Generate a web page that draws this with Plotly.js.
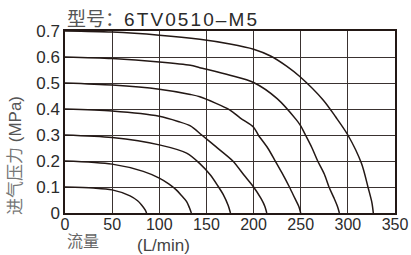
<!DOCTYPE html>
<html>
<head>
<meta charset="utf-8">
<script src="https://cdn.plot.ly/plotly-3.0.1.min.js"></script>
<style>html,body{margin:0;padding:0;background:#fff;}#chart{width:411px;height:255px;}</style>
</head>
<body>
<div id="chart"></div>
<script>
// Flow (L/min) and pressure (MPa) for each supply-pressure curve
const flow07 = [0, 50, 100, 143, 175, 200, 218, 235, 249, 274, 287, 300, 314.5, 321.6, 325.5, 327];
const pres07 = [0.7, 0.696, 0.684, 0.668, 0.65, 0.63, 0.604, 0.565, 0.525, 0.434, 0.37, 0.3, 0.19, 0.096, 0.04, 0];
const flow06 = [0, 50, 100, 133, 143, 175, 200, 225, 245, 250, 255, 262, 268, 275, 280, 285, 289, 291];
const pres06 = [0.6, 0.594, 0.581, 0.568, 0.559, 0.53, 0.502, 0.44, 0.36, 0.335, 0.3, 0.25, 0.2, 0.15, 0.1, 0.06, 0.025, 0];
const flow05 = [0, 50, 100, 133, 143, 175, 186, 200, 205, 215, 223, 230, 238, 244, 248, 250];
const pres05 = [0.5, 0.492, 0.476, 0.456, 0.447, 0.396, 0.365, 0.33, 0.3, 0.25, 0.2, 0.155, 0.1, 0.055, 0.025, 0];
const flow04 = [0, 50, 100, 120, 133, 145, 160, 178, 190, 200, 208, 212, 214];
const pres04 = [0.4, 0.392, 0.372, 0.352, 0.335, 0.3, 0.255, 0.2, 0.145, 0.1, 0.055, 0.025, 0];
const flow03 = [0, 50, 100, 129, 143, 154, 162, 168, 173, 175.5];
const pres03 = [0.3, 0.29, 0.262, 0.23, 0.19, 0.147, 0.105, 0.07, 0.03, 0];
const flow02 = [0, 50, 83, 100, 110, 118, 124, 129, 132, 134];
const pres02 = [0.2, 0.188, 0.16, 0.134, 0.112, 0.089, 0.065, 0.044, 0.02, 0];
const flow01 = [0, 30, 50, 69, 77, 81, 85, 86.5];
const pres01 = [0.1, 0.096, 0.089, 0.066, 0.047, 0.032, 0.012, 0];

const xTicks = [0, 50, 100, 150, 200, 250, 300, 350];
const yTicks = [0, 0.1, 0.2, 0.3, 0.4, 0.5, 0.6, 0.7];
const yTickText = ['0', '0.1', '0.2', '0.3', '0.4', '0.5', '0.6', '0.7'];

const series = [[flow07, pres07], [flow06, pres06], [flow05, pres05], [flow04, pres04], [flow03, pres03], [flow02, pres02], [flow01, pres01]];
const ink = '#231815';
const traces = series.map(s => ({
  x: s[0], y: s[1], type: 'scatter', mode: 'lines',
  line: {color: ink, width: 1.5, shape: 'spline', smoothing: 0.8},
  hoverinfo: 'skip', showlegend: false
}));

const tickFont = {family: 'Liberation Sans, Arial, sans-serif', size: 17, color: '#2b2b2b'};
const layout = {
  width: 411, height: 255,
  margin: {l: 65, r: 16, t: 31, b: 42, pad: 0},
  paper_bgcolor: '#fff', plot_bgcolor: '#fff',
  showlegend: false,
  xaxis: {
    range: [0, 350], tickvals: xTicks, ticktext: xTicks.map(String),
    showgrid: true, gridcolor: '#3a3230', gridwidth: 1, zeroline: false,
    showline: true, mirror: true, linecolor: ink, linewidth: 1.6,
    ticks: '', tickfont: {family: tickFont.family, size: 16, color: tickFont.color}, ticklabelstandoff: -4, fixedrange: true
  },
  yaxis: {
    range: [0, 0.7], tickvals: yTicks, ticktext: yTickText,
    showgrid: true, gridcolor: '#3a3230', gridwidth: 1, zeroline: false,
    showline: true, mirror: true, linecolor: ink, linewidth: 1.6,
    ticks: '', tickfont: tickFont, fixedrange: true
  },
  annotations: [
    {text: '<span style="color:#555">型号：</span><span style="letter-spacing:2.1px">6TV0510–M5</span>', xref: 'paper', yref: 'paper', x: 0.0, y: 1.064, xanchor: 'left', yanchor: 'middle', showarrow: false,
     font: {family: 'Liberation Sans, Arial, Noto Sans CJK SC, sans-serif', size: 19, color: '#2b2b2b'}},
    {text: '流量', xref: 'paper', yref: 'paper', x: 0, y: -0.228, xanchor: 'left', yanchor: 'bottom', showarrow: false,
     font: {family: 'Noto Sans CJK SC, sans-serif', size: 16, color: '#666'}},
    {text: '(L/min)', xref: 'paper', yref: 'paper', x: 0.212, y: -0.18, xanchor: 'left', yanchor: 'middle', showarrow: false,
     font: {family: 'Liberation Sans, Arial, sans-serif', size: 17, color: '#444'}},
    {text: '<span style="color:#777">进气压力</span> (MPa)', xref: 'paper', yref: 'paper', x: -0.152, y: 0.318, xanchor: 'center', yanchor: 'middle', textangle: -90, showarrow: false,
     font: {family: 'Liberation Sans, Arial, Noto Sans CJK SC, sans-serif', size: 17, color: '#555'}}
  ]
};

Plotly.newPlot('chart', traces, layout, {staticPlot: true, displayModeBar: false});
</script>
</body>
</html>
